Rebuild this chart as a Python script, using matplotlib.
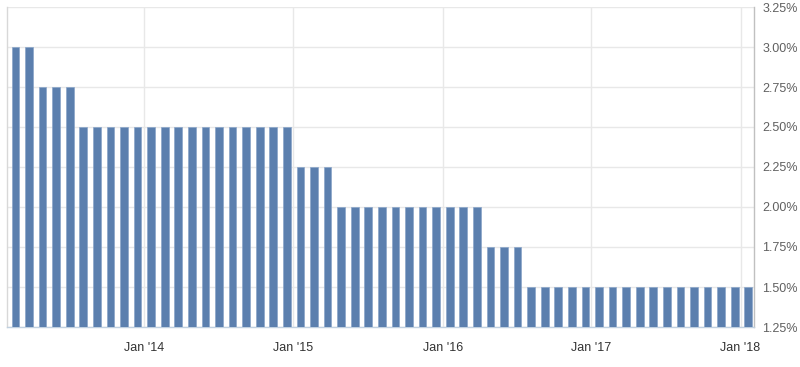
import numpy as np
import matplotlib
matplotlib.use("Agg")
import matplotlib.pyplot as plt
import datetime as dt

# RBA meeting dates (no January meetings)
meeting_dates = [
    "2013-03-05", "2013-04-02", "2013-05-07", "2013-06-04", "2013-07-02", "2013-08-06",
    "2013-09-03", "2013-10-01", "2013-11-05", "2013-12-03",
    "2014-02-04", "2014-03-04", "2014-04-01", "2014-05-06", "2014-06-03", "2014-07-01",
    "2014-08-05", "2014-09-02", "2014-10-07", "2014-11-04", "2014-12-02",
    "2015-02-03", "2015-03-03", "2015-04-07", "2015-05-05", "2015-06-02", "2015-07-07",
    "2015-08-04", "2015-09-01", "2015-10-06", "2015-11-03", "2015-12-01",
    "2016-02-02", "2016-03-01", "2016-04-05", "2016-05-03", "2016-06-07", "2016-07-05",
    "2016-08-02", "2016-09-06", "2016-10-04", "2016-11-01", "2016-12-06",
    "2017-02-07", "2017-03-07", "2017-04-04", "2017-05-02", "2017-06-06", "2017-07-04",
    "2017-08-01", "2017-09-05", "2017-10-03", "2017-11-07", "2017-12-05",
    "2018-02-06",
]
rates = [
    3.00, 3.00, 2.75, 2.75, 2.75, 2.50, 2.50, 2.50, 2.50, 2.50,
    2.50, 2.50, 2.50, 2.50, 2.50, 2.50, 2.50, 2.50, 2.50, 2.50, 2.50,
    2.25, 2.25, 2.25, 2.00, 2.00, 2.00, 2.00, 2.00, 2.00, 2.00, 2.00,
    2.00, 2.00, 2.00, 1.75, 1.75, 1.75, 1.50, 1.50, 1.50, 1.50, 1.50,
    1.50, 1.50, 1.50, 1.50, 1.50, 1.50, 1.50, 1.50, 1.50, 1.50, 1.50,
    1.50,
]
tick_dates = ["2014-01-01", "2015-01-01", "2016-01-01", "2017-01-01", "2018-01-01"]
tick_labels = ["Jan '14", "Jan '15", "Jan '16", "Jan '17", "Jan '18"]
y_ticks = [1.25, 1.50, 1.75, 2.00, 2.25, 2.50, 2.75, 3.00, 3.25]

def ordinal(d):
    return dt.date.fromisoformat(d).toordinal()

d_ord = np.array([ordinal(d) for d in meeting_dates], dtype=float)
idx = np.arange(len(meeting_dates))
tick_pos = np.interp([ordinal(d) for d in tick_dates], d_ord, idx)

plt.rcParams['font.family'] = ['Liberation Sans', 'DejaVu Sans']

fig = plt.figure(figsize=(8.0, 3.67), dpi=100)
ax = fig.add_axes([7/800, 1 - 327/367, (754 - 7)/800, 320/367])

ax.bar(idx, rates, width=0.56, bottom=0, color='#5b7fae', edgecolor='#8aa5c9',
       linewidth=0.5, zorder=3)

ax.set_ylim(1.25, 3.25)
ax.set_xlim(-0.62, len(idx) - 1 + 0.42)

ax.set_yticks(y_ticks)
ax.set_yticklabels([f"{v:.2f}%" for v in y_ticks])
ax.yaxis.tick_right()
ax.set_xticks(tick_pos)
ax.set_xticklabels(tick_labels)

ax.grid(True, color='#e8e8e8', linewidth=1, zorder=0)
ax.tick_params(axis='y', length=0, pad=6, labelsize=9, labelcolor='#606060')
ax.tick_params(axis='x', length=0, pad=11, labelsize=9, labelcolor='#333333')

ax.spines['top'].set_visible(False)
ax.spines['left'].set_color('#d8d8d8')
ax.spines['right'].set_color('#c0c0c0')
ax.spines['bottom'].set_color('#c0d0e0')
for s in ['left', 'right', 'bottom']:
    ax.spines[s].set_linewidth(1)

fig.savefig("out.png", dpi=100)
